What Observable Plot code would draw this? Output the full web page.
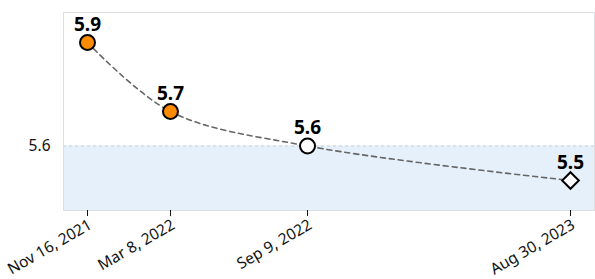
<!DOCTYPE html>
<html>
<head>
<meta charset="utf-8">
<script src="https://cdn.jsdelivr.net/npm/d3@7"></script>
<script src="https://cdn.jsdelivr.net/npm/@observablehq/plot@0.6"></script>
<style>
  html, body { margin: 0; padding: 0; background: #fff; }
  #chart svg { display: block; }
</style>
</head>
<body>
<div id="chart"></div>
<script>
const dates = ["2021-11-16", "2022-03-08", "2022-09-09", "2023-08-30"];
const tickLabels = ["Nov 16, 2021", "Mar 8, 2022", "Sep 9, 2022", "Aug 30, 2023"];
const values = [5.9, 5.7, 5.6, 5.5];
const fills = ["#ff8c00", "#ff8c00", "#ffffff", "#ffffff"];
const symbols = ["circle", "circle", "circle", "diamond2"];
const target = 5.6;

const data = dates.map((d, i) => ({
  date: new Date(d + "T00:00:00Z"),
  value: values[i],
  fill: fills[i],
  symbol: symbols[i],
  label: values[i].toFixed(1)
}));

const fmt = new Map(data.map((d, i) => [+d.date, tickLabels[i]]));
const tickDates = data.map(d => d.date);

const shade = (index, scales, values, dims) => {
  const y0 = scales.y(target);
  const r = d3.create("svg:rect")
    .attr("x", dims.marginLeft)
    .attr("y", y0)
    .attr("width", dims.width - dims.marginLeft - dims.marginRight)
    .attr("height", dims.height - dims.marginBottom - y0)
    .attr("fill", "#e6f0fa");
  return r.node();
};

const chart = Plot.plot({
  width: 595,
  height: 279,
  marginLeft: 63,
  marginRight: 1,
  marginTop: 12,
  marginBottom: 69,
  style: { fontFamily: "Noto Sans", color: "#111", background: "#fff" },
  x: { type: "utc", inset: 24 },
  y: { domain: [5.5, 5.9], inset: 30 },
  marks: [
    shade,
    Plot.ruleY([target], { stroke: "#c5ccd6", strokeDasharray: "3,3", strokeWidth: 1 }),
    Plot.frame({ stroke: "#dcdfe0" }),
    Plot.axisX({
      ticks: tickDates,
      tickFormat: () => "",
      tickSize: 6,
      label: null
    }),
    Plot.axisX({
      ticks: tickDates,
      tickFormat: d => fmt.get(+d),
      tickRotate: -30,
      tickSize: 0,
      tickPadding: 13,
      dx: 3,
      fontSize: 15.5,
      label: null
    }),
    Plot.axisY({
      ticks: [target],
      tickFormat: d => d.toFixed(1),
      tickSize: 0,
      tickPadding: 13,
      fontSize: 15.5,
      label: null
    }),
    Plot.line(data, { x: "date", y: "value", curve: "catmull-rom", stroke: "#666", strokeWidth: 1.6, strokeDasharray: "5,4" }),
    Plot.dot(data, { x: "date", y: "value", r: 7.5, fill: d => d.fill, stroke: "#000", strokeWidth: 2, symbol: d => d.symbol }),
    Plot.text(data, { x: "date", y: "value", text: "label", dy: -18, fontWeight: "bold", fontSize: 19, fill: "#000" })
  ]
});
document.getElementById("chart").appendChild(chart);
</script>
</body>
</html>
